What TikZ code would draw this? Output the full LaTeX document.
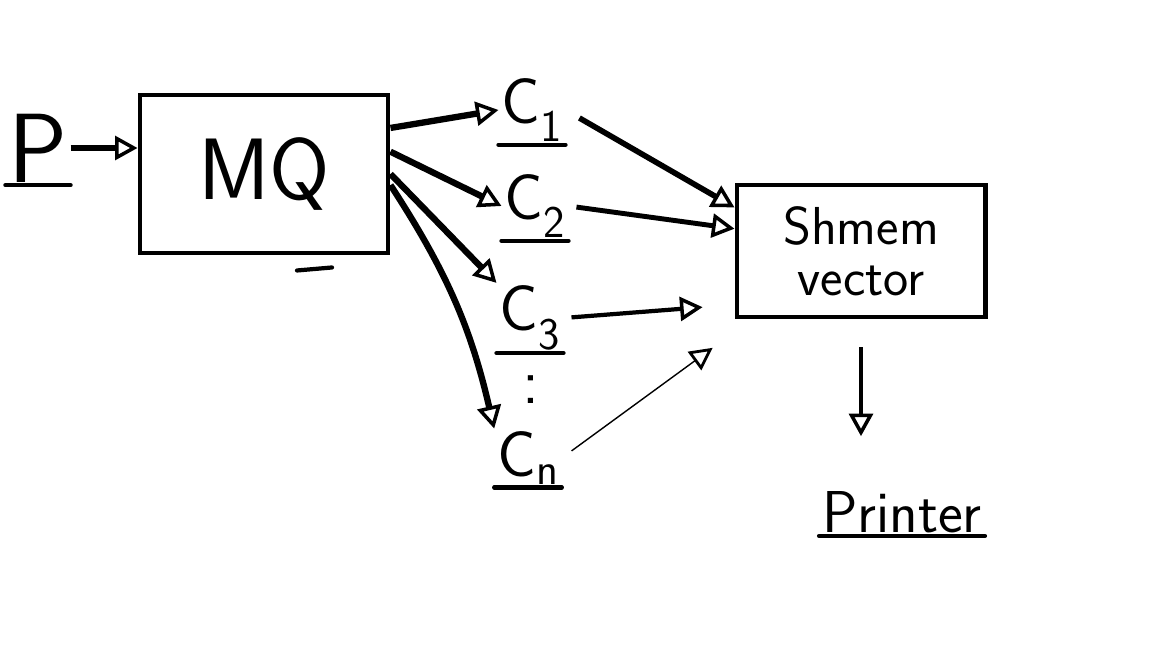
\documentclass[tikz,border=0pt]{standalone}
\usepackage{tikz}
\usetikzlibrary{arrows.meta,positioning}
\tikzset{
	box/.style={
		rectangle,
		draw,
		line width=3.5pt,
		align=center,
		font=\sffamily
	},
	hand/.style={
		font=\sffamily\fontsize{46}{46}\selectfont,
		inner sep=2pt
	},
	ul/.style={line width=3pt,line cap=round,yshift=-5pt},
	line/.style={-{Triangle[open,length=16pt,width=17pt,line width=2.5pt]},line width=4.5pt},
	thinline/.style={-{Triangle[open,length=16pt,width=16pt,line width=2pt]},line width=1pt}
}

\begin{document}
\begin{tikzpicture}[x=0.025cm,y=-0.025cm,node distance=1cm]
		\useasboundingbox (0,0) rectangle (1152,648);
		\node[box,minimum width=6.2cm,minimum height=3.95cm,font=\sffamily\fontsize{62}{62}\selectfont] (mq) at (264,174) {MQ};
		\node[hand,font=\sffamily\fontsize{70}{70}\selectfont] (p) at (38,148) {P};
		\node[hand] (c1) at (532,110) {C\textsubscript{1}};
		\node[hand] (c2) at (535,206) {C\textsubscript{2}};
		\node[hand] (c3) at (530,318) {C\textsubscript{3}};
		\node[hand] (dots) at (531,390) {:};
		\node[hand] (cn) at (528,458) {C\textsubscript{n}};
		\node[box,minimum width=6.2cm,minimum height=3.3cm,font=\sffamily\fontsize{38}{36}\selectfont] (shmem) at (861,251) {Shmem\\vector};
		\node[hand,font=\sffamily\fontsize{42}{42}\selectfont] (printer) at (902,512) {Printer};

		% underlines
		\foreach \n in {p,c1,c2,c3,cn,printer}
			\draw[ul] (\n.south west) -- (\n.south east);
		\draw[ul] (mq.south) ++(33,15) -- ++(35,-3);

		\draw[line] (p.east) -- (mq.west |- p.east);
		\draw[line] (mq.20) -- (c1.west);
		\draw[line] (mq.10) -- (c2.west);
		\draw[line] (mq.east) -- (c3.north west);
		\draw[line] (mq.-5) to[bend left=10] (cn.north west);
		\draw[line,line width=4pt,shorten <=0.4cm] (c1.east) -- (shmem.161);
		\draw[line,line width=3.5pt,shorten <=0.2cm] (c2.east) -- (shmem.170);
		\draw[line,line width=3pt,shorten <=0.2cm,shorten >=0.8cm] (c3.east) -- (shmem.203);
		\draw[thinline,shorten <=0.3cm,shorten >=1.2cm] (cn.east) -- (shmem.212);
		\draw[line,line width=3.5pt,shorten <=0.7cm,shorten >=1.3cm] (shmem.south) -- (shmem.south |- printer.north);
	\end{tikzpicture}
\end{document}
